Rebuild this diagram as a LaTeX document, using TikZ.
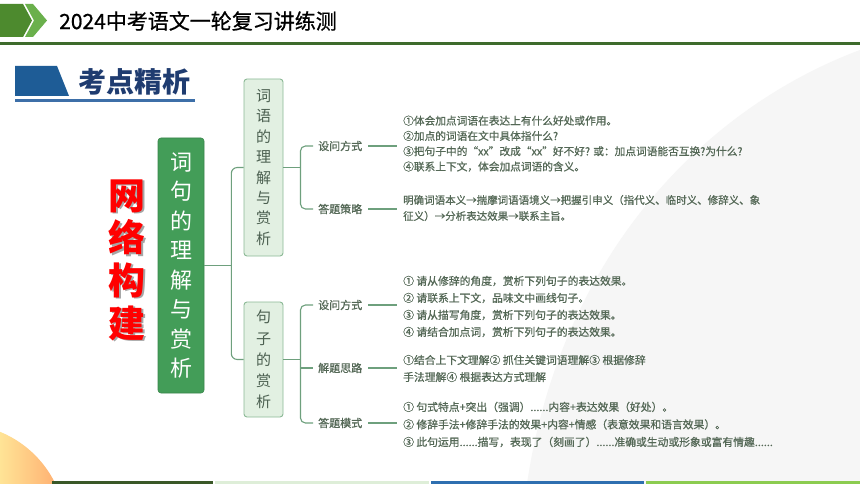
\documentclass[tikz,border=0pt]{standalone}
\usepackage{fontspec}
\setmainfont{Noto Sans CJK SC}
\newfontfamily\medfont{Noto Sans CJK SC}[FakeBold=0.8]
\usetikzlibrary{calc}
\definecolor{hdrdark}{RGB}{77,138,46}
\definecolor{hdrlight}{RGB}{106,176,76}
\definecolor{hdrline}{RGB}{62,107,44}
\definecolor{bannerblue}{RGB}{30,92,150}
\definecolor{bannerline}{RGB}{61,111,168}
\definecolor{bannertext}{RGB}{31,60,112}
\definecolor{mainfill}{RGB}{67,157,88}
\definecolor{subfill}{RGB}{226,240,226}
\definecolor{subdraw}{RGB}{140,185,150}
\definecolor{connc}{RGB}{110,160,125}
\definecolor{txtc}{RGB}{84,104,86}
\definecolor{subtxt}{RGB}{75,95,80}
\definecolor{bgarc}{RGB}{246,246,246}
\definecolor{sunA}{RGB}{255,228,150}
\definecolor{sunB}{RGB}{255,168,108}
\definecolor{barA}{RGB}{58,88,40}
\definecolor{barB}{RGB}{222,238,216}
\definecolor{barC}{RGB}{46,111,176}
\definecolor{barD}{RGB}{140,204,80}
\tikzset{
  mainbox/.style={draw=mainfill!85!black, line width=0.6pt, fill=mainfill, rounded corners=3pt,
    minimum width=46pt, minimum height=255pt, inner sep=0pt, text=white, align=center,
    font=\fontsize{22}{29.5}\selectfont},
  subbox/.style={draw=subdraw, line width=0.9pt, fill=subfill, rounded corners=3pt,
    minimum width=39pt, inner sep=0pt, text=subtxt, align=center},
  conn/.style={draw=connc, line width=1.1pt},
  lab/.style={anchor=west, inner sep=0pt, text=txtc, font=\medfont\fontsize{11}{13}\selectfont},
  blk/.style={anchor=west, inner sep=0pt, text=txtc, align=left},
}
\begin{document}
\begin{tikzpicture}[x=1pt,y=-1pt]
\useasboundingbox (0,0) rectangle (860,484);
\fill[white] (0,0) rectangle (860,484);
% faint background arc
\fill[bgarc] (860,50) .. controls (700,110) and (560,260) .. (527,484) -- (860,484) -- cycle;
% sun at bottom left
\begin{scope}
  \clip (-40,530) circle (106);
  \shade[left color=sunA, right color=sunB] (0,420) rectangle (66,484);
\end{scope}
% bottom band
\fill[barA] (52,480.5) rectangle (213,484);
\fill[barB] (215,480.5) rectangle (429,484);
\fill[barC] (431,480.5) rectangle (644,484);
\fill[barD] (646,480.5) rectangle (860,484);
% header
\fill[hdrdark] (0,4) -- (23,4) -- (32,20.5) -- (23,37) -- (0,37) -- cycle;
\fill[hdrlight] (25,4) -- (33,4) -- (47,20.5) -- (33,37) -- (25,37) -- (34,20.5) -- cycle;
\fill[hdrline] (0,42) rectangle (860,45);
\node[anchor=west, inner sep=0pt, font=\medfont\fontsize{21}{26}\selectfont] (title) at (59,21) {2024中考语文一轮复习讲练测};
% banner
\fill[bannerblue] (15,66) -- (57,66) -- (69,96) -- (15,96) -- cycle;
\fill[bannerline] (15,99.5) rectangle (195,102);
\node[anchor=west, inner sep=0pt, text=bannertext, font=\fontsize{28}{30}\selectfont\bfseries] (banner) at (78,82) {考点精析};
% red title
\node[inner sep=0pt, align=center, text=black!35, font=\fontsize{37}{42.7}\selectfont\bfseries] (netshadow) at (128.5,261.5) {网\\络\\构\\建};
\node[inner sep=0pt, align=center, text=red, font=\fontsize{37}{42.7}\selectfont\bfseries] (net) at (127,260) {网\\络\\构\\建};
% boxes
\node[mainbox] (main) at (181,265.5) {词\\句\\的\\理\\解\\与\\赏\\析};
\node[subbox, minimum height=177pt, font=\fontsize{15}{20.4}\selectfont] (sub1) at (263.5,167.5) {词\\语\\的\\理\\解\\与\\赏\\析};
\node[subbox, minimum height=115pt, font=\fontsize{15}{21.2}\selectfont] (sub2) at (263.5,359.5) {句\\子\\的\\赏\\析};
% main connector
\coordinate (jm) at ([xshift=27pt]main.east);
\draw[conn] (main.east) -- (jm);
\draw[conn, rounded corners=6pt] (sub1.west) -| (jm) |- (sub2.west);
% labels
\node[lab] (l11) at (318,146) {设问方式};
\node[lab] (l12) at (318,209) {答题策略};
\node[lab] (l21) at (318,305) {设问方式};
\node[lab] (l22) at (318,368) {解题思路};
\node[lab] (l23) at (318,423) {答题模式};
% text blocks
\node[blk, font=\medfont\fontsize{10.7}{15.3}\selectfont] (b11) at (403,143.7) {①体会加点词语在表达上有什么好处或作用。\\②加点的词语在文中具体指什么?\\③把句子中的“xx”改成“xx”好不好? 或：加点词语能否互换?为什么?\\④联系上下文，体会加点词语的含义。};
\node[blk, font=\medfont\fontsize{10.5}{16}\selectfont] (b12) at (403,208) {明确词语本义→揣摩词语语境义→把握引申义（指代义、临时义、修辞义、象\\征义）→分析表达效果→联系主旨。};
\node[blk, font=\medfont\fontsize{10.8}{17}\selectfont] (b21) at (403,306.5) {① 请从修辞的角度，赏析下列句子的表达效果。\\② 请联系上下文，品味文中画线句子。\\③ 请从描写角度，赏析下列句子的表达效果。\\④ 请结合加点词，赏析下列句子的表达效果。};
\node[blk, font=\medfont\fontsize{10.8}{17}\selectfont] (b22) at (403,368.5) {①结合上下文理解② 抓住关键词语理解③ 根据修辞\\手法理解④ 根据表达方式理解};
\node[blk, font=\medfont\fontsize{10.8}{17.5}\selectfont] (b23) at (403,424.5) {① 句式特点+突出（强调）......内容+表达效果（好处）。\\② 修辞手法+修辞手法的效果+内容+情感（表意效果和语言效果）。\\③ 此句运用......描写，表现了（刻画了）......准确或生动或形象或富有情趣......};
% brackets
\coordinate (j1) at ([xshift=17pt]sub1.east);
\draw[conn] (sub1.east) -- (j1);
\draw[conn, rounded corners=5pt] ([xshift=-5pt]l11.west) -| (j1) |- ([xshift=-5pt]l12.west);
\coordinate (j2) at ([xshift=17pt]sub2.east);
\draw[conn] (sub2.east) -- (j2);
\draw[conn, rounded corners=5pt] ([xshift=-5pt]l21.west) -| (j2) |- ([xshift=-5pt]l23.west);
\draw[conn] (j2 |- l22.west) -- ([xshift=-5pt]l22.west);
% dash lines label -> block
\draw[conn] ([xshift=6pt]l11.east) -- ([xshift=-6pt]l11.east -| b11.west);
\draw[conn] ([xshift=6pt]l12.east) -- ([xshift=-6pt]l12.east -| b12.west);
\draw[conn] ([xshift=6pt]l21.east) -- ([xshift=-6pt]l21.east -| b21.west);
\draw[conn] ([xshift=6pt]l22.east) -- ([xshift=-6pt]l22.east -| b22.west);
\draw[conn] ([xshift=6pt]l23.east) -- ([xshift=-6pt]l23.east -| b23.west);
\end{tikzpicture}
\end{document}
